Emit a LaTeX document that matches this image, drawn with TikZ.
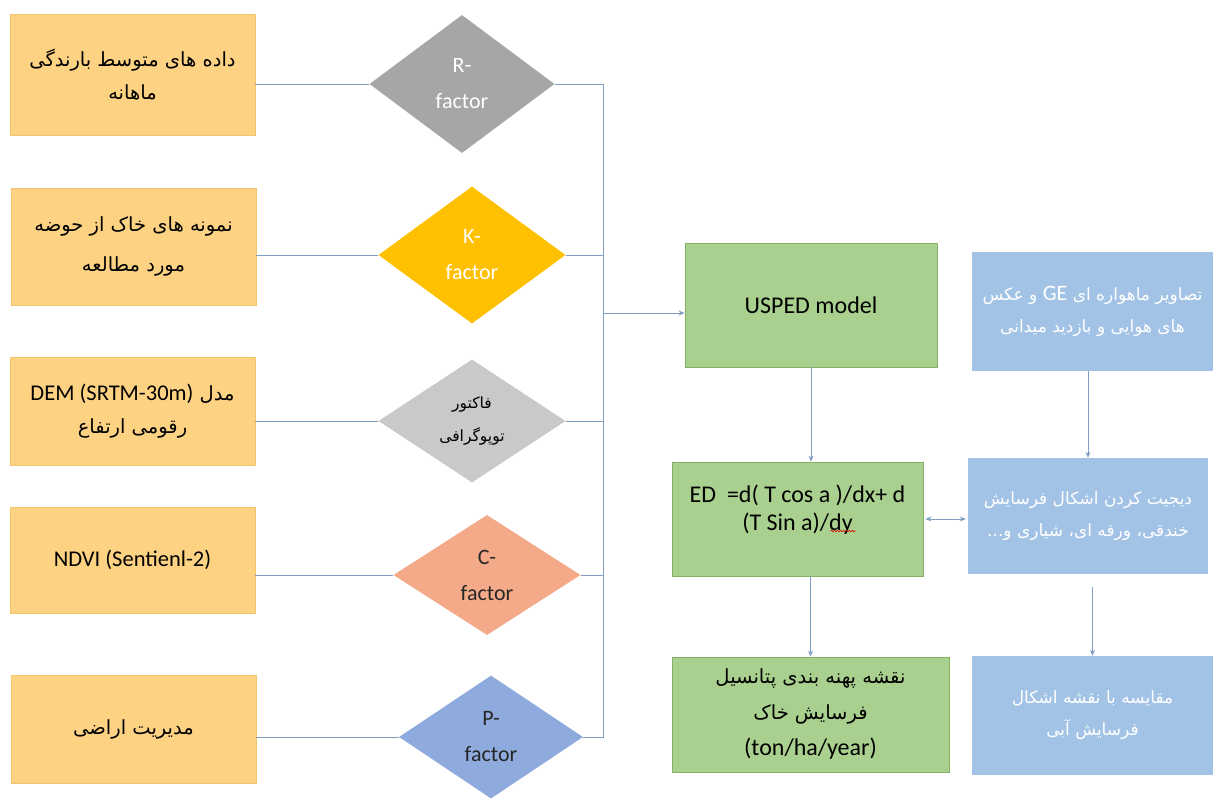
\documentclass[tikz,border=0pt]{standalone}
\usepackage{fontspec}
\setmainfont{Carlito}
\newfontfamily\lat{Carlito}
\newfontfamily\fa[Script=Arabic]{DejaVu Sans}
\TeXXeTstate=1
\usetikzlibrary{shapes.geometric,arrows.meta,decorations.pathmorphing}
\newcommand\faline[1]{\beginR #1\endR}
\definecolor{obfill}{HTML}{FDD383}
\definecolor{obedge}{HTML}{F2C46C}
\definecolor{gfill}{HTML}{A9D08E}
\definecolor{gedge}{HTML}{84B062}
\definecolor{bfill}{HTML}{A2C3E6}
\definecolor{linec}{HTML}{7F9EC2}
\definecolor{rgray}{HTML}{A6A6A6}
\definecolor{kgold}{HTML}{FFC000}
\definecolor{tgray}{HTML}{C9C9C9}
\definecolor{csalmon}{HTML}{F4AA88}
\definecolor{pblue}{HTML}{8FAADC}
\begin{document}
\begin{tikzpicture}[x=1pt,y=-1pt,
  con/.style={draw=linec, line width=0.9pt},
  arr/.style={con, -{Stealth[length=6pt,width=5pt]}},
  darr/.style={con, {Stealth[length=6pt,width=5pt]}-{Stealth[length=6pt,width=5pt]}},
  orangebox/.style={rectangle, fill=obfill, draw=obedge, line width=0.8pt, minimum width=245, inner sep=0, align=center, font=\fa\fontsize{19.5}{33}\selectfont},
  dia/.style={diamond, inner sep=0, aspect=1.4, align=center, draw=none, font=\lat\fontsize{22}{36}\selectfont},
  greenbox/.style={rectangle, fill=gfill, draw=gedge, line width=0.8pt, inner sep=0, align=center},
  bluebox/.style={rectangle, fill=bfill, draw=none, inner sep=0, align=center, text=white, font=\fa\fontsize{17}{32}\selectfont},
]
\useasboundingbox (0,0) rectangle (1215,798);
\fill[white] (0,0) rectangle (1215,798);

% left input boxes
\node[orangebox, minimum height=121] (rain) at (132.5,74.5) {\faline{داده های متوسط بارندگی}\\\faline{ماهانه}};
\node[orangebox, minimum height=117, font=\fa\fontsize{19.5}{40}\selectfont] (soil) at (133.5,246.5) {\faline{نمونه های خاک از حوضه}\\\faline{مورد مطالعه}};
\node[orangebox, minimum height=108] (dem) at (132.5,411) {\faline{مدل \beginL{\lat\fontsize{22.5}{33}\selectfont DEM (SRTM-30m)}\endL}\\\faline{رقومی ارتفاع}};
\node[orangebox, minimum height=106, font=\lat\fontsize{22.5}{33}\selectfont] (ndvi) at (132.5,560) {NDVI (Sentienl-2)};
\node[orangebox, minimum height=108] (mgmt) at (133.5,729) {\faline{مدیریت اراضی}};

% factor diamonds
\node[dia, fill=rgray, text=white, minimum width=185, minimum height=138] (rf) at (462,84) {R-\\factor};
\node[dia, fill=kgold, text=white, minimum width=187, minimum height=137] (kf) at (472,255) {K-\\factor};
\node[dia, fill=tgray, text=black, minimum width=187, minimum height=123, font=\fa\fontsize{15.5}{33}\selectfont] (tf) at (472,421) {\faline{فاکتور}\\\faline{توپوگرافی}};
\node[dia, fill=csalmon, text=black!85, minimum width=187, minimum height=120] (cf) at (487,575) {C-\\factor};
\node[dia, fill=pblue, text=black!85, minimum width=184, minimum height=123] (pf) at (491,737) {P-\\factor};

% model column
\node[greenbox, minimum width=252, minimum height=124, font=\lat\fontsize{24}{30}\selectfont] (usped) at (811,305) {USPED model};
\node[greenbox, minimum width=251, minimum height=114, font=\lat\fontsize{24}{28}\selectfont] (ed) at (797.5,519) {ED\ \ =d( T cos a )/dx+ d\\(T Sin a)/dy\\[-6pt]};
\node[greenbox, minimum width=277, minimum height=115, font=\fa\fontsize{19.5}{36}\selectfont] (map) at (810.5,714.5) {\faline{نقشه پهنه بندی  پتانسیل}\\\faline{فرسایش خاک}\\{\lat\fontsize{24}{36}\selectfont (ton/ha/year)}};

% validation column
\node[bluebox, minimum width=241, minimum height=119] (imgs) at (1092.5,311.5) {\faline{تصاویر ماهواره ای \beginL{\lat\fontsize{22}{32}\selectfont GE}\endL{} و عکس}\\\faline{های هوایی و بازدید میدانی}};
\node[bluebox, minimum width=240, minimum height=116] (digit) at (1088,516) {\faline{دیجیت کردن اشکال فرسایش}\\\faline{خندقی، ورقه ای، شیاری و...}};
\node[bluebox, minimum width=241, minimum height=119] (compare) at (1092.5,715.5) {\faline{مقایسه با نقشه اشکال}\\\faline{فرسایش آبی}};

% connectors: inputs to factors
\foreach \b/\f in {rain/rf, soil/kf, dem/tf, ndvi/cf, mgmt/pf}
  \draw[con] (\f.west -| \b.east) -- (\f.west);
\coordinate (bus) at (603,313);
\foreach \f in {rf, kf, tf, cf, pf}
  \draw[con] (\f.east) -| (bus);
\draw[arr] (bus) -- (bus -| usped.west);

\draw[arr] (usped.south) -- (usped.south |- ed.north);
\draw[arr] (map.north |- ed.south) -- (map.north);
\draw[darr, shorten <=2pt, shorten >=2pt] (ed.east) -- (ed.east -| digit.west);
\draw[arr] (imgs.south -| digit.north) -- (digit.north);
\draw[arr, shorten <=13pt] (digit.south -| compare.north) -- (compare.north);

% spell-check squiggle under "dy"
\draw[red!85!black, line width=0.6pt, decorate, decoration={snake, amplitude=0.8pt, segment length=3pt}]
  ([xshift=33pt,yshift=-12pt]ed.center) -- ([xshift=58pt,yshift=-12pt]ed.center);
\end{tikzpicture}
\end{document}
